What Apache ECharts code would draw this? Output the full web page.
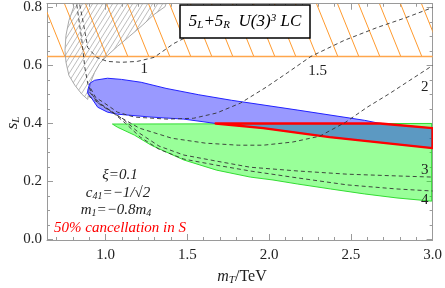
<!DOCTYPE html>
<html><head><meta charset="utf-8">
<script src="https://cdn.jsdelivr.net/npm/echarts@6/dist/echarts.min.js"></script>
<style>html,body{margin:0;padding:0;background:#fff}#c{width:445px;height:288px}</style>
</head><body><div id="c"></div>
<script>
// ---- axis ticks ----
const xMajor = [1.0, 1.5, 2.0, 2.5, 3.0];
const xMinor = [0.7, 0.8, 0.9, 1.1, 1.2, 1.3, 1.4, 1.6, 1.7, 1.8, 1.9, 2.1, 2.2, 2.3, 2.4, 2.6, 2.7, 2.8, 2.9];
const yMajor = [0.0, 0.2, 0.4, 0.6, 0.8];
const yMinor = [0.05, 0.1, 0.15, 0.25, 0.3, 0.35, 0.45, 0.5, 0.55, 0.65, 0.7, 0.75];
const xMin = 0.642, xMax = 3.0, yMin = -0.002, yMax = 0.813;

// ---- regions (mT, sL) ----
const orangeBandLow = 0.631;
const grayRegion = [[0.80,0.813],[0.806,0.803],[0.776,0.755],[0.758,0.704],[0.752,0.652],[0.758,0.611],[0.776,0.566],[0.812,0.532],[0.855,0.501],[0.891,0.483],[0.897,0.508],[0.909,0.542],[0.933,0.576],[0.964,0.607],[1.012,0.635],[1.073,0.666],[1.145,0.700],[1.224,0.738],[1.297,0.776],[1.364,0.803],[1.37,0.813]];
const blueRegion = [[0.891,0.514],[0.903,0.538],[0.933,0.549],[1.012,0.556],[1.097,0.552],[1.218,0.542],[1.370,0.521],[1.570,0.499],[1.770,0.480],[2.176,0.446],[2.582,0.411],[2.679,0.400],[3.0,0.384],
  [3.0,0.315],[2.370,0.353],[1.964,0.384],[1.673,0.400],[1.479,0.415],[1.279,0.422],[1.073,0.432],[1.012,0.439],[0.952,0.456],[0.915,0.487],[0.891,0.504]];
const greenRegion = [[1.042,0.398],[2.994,0.400],[2.994,0.132],[2.782,0.143],[2.582,0.157],[2.376,0.174],[2.176,0.191],[2.024,0.205],[1.885,0.215],[1.679,0.239],[1.479,0.274],[1.279,0.325],[1.176,0.360],[1.073,0.387]];
const redRegion = [[1.673,0.400],[2.679,0.400],[3.0,0.384],[3.0,0.315],[2.370,0.353],[1.964,0.384]];

// ---- dashed contours ----
const contour1 = [[0.842,0.81],[0.867,0.738],[0.891,0.662],[0.945,0.628],[1.012,0.614],[1.097,0.611],[1.194,0.614],[1.297,0.628],[1.418,0.676],[1.552,0.714],[1.661,0.748],[1.782,0.790],[1.82,0.81]];
const contour15 = [[0.909,0.521],[0.939,0.490],[0.994,0.470],[1.073,0.439],[1.176,0.422],[1.376,0.415],[1.539,0.418],[1.679,0.436],[1.824,0.470],[1.982,0.525],[2.115,0.576],[2.255,0.631],[2.461,0.687],[2.661,0.731],[2.842,0.766],[3.0,0.800]];
const contour2 = [[0.903,0.508],[0.933,0.487],[0.964,0.466],[1.067,0.429],[1.206,0.384],[1.406,0.349],[1.612,0.332],[1.812,0.325],[1.964,0.325],[2.145,0.336],[2.309,0.356],[2.467,0.404],[2.600,0.456],[2.739,0.504],[2.861,0.549],[3.0,0.600]];
const contour3 = [[0.897,0.494],[0.952,0.473],[1.036,0.442],[1.115,0.411],[1.206,0.367],[1.327,0.322],[1.479,0.291],[1.679,0.270],[1.885,0.249],[2.176,0.236],[2.479,0.225],[2.782,0.219],[3.0,0.215]];
const contour4 = [[0.824,0.81],[0.842,0.738],[0.855,0.687],[0.873,0.594],[0.891,0.538],[0.921,0.497],[0.964,0.470],[1.042,0.439],[1.121,0.401],[1.212,0.353],[1.327,0.311],[1.479,0.277],[1.679,0.256],[1.885,0.236],[2.176,0.212],[2.479,0.188],[2.782,0.174],[3.0,0.167]];
const contourLabels = ['1', '1.5', '2', '3', '4'];
const contourLabelAt = [[1.236,0.588],[2.297,0.580],[2.952,0.525],[2.952,0.239],[2.952,0.136]];

const SERIF = '"Liberation Serif","DejaVu Serif",serif';

function hatch(w, h, color, lw, dir) {
  const c = document.createElement('canvas');
  c.width = w; c.height = h;
  const g = c.getContext('2d');
  g.strokeStyle = color; g.lineWidth = lw; g.beginPath();
  for (let k = -1; k <= 1; k++) {
    if (dir === 'back') { g.moveTo(k * w, 0); g.lineTo(k * w + w, h); }
    else { g.moveTo(k * w, h); g.lineTo(k * w + w, 0); }
  }
  g.stroke();
  return c;
}
const orangeHatch = hatch(21, 52, '#ff9a2e', 1, 'back');
const grayHatch = hatch(5, 8, '#909090', 0.6, 'fwd');

function poly(pts, style, z) {
  return { type: 'custom', coordinateSystem: 'cartesian2d', silent: true, z: z, clip: true,
    data: [0], renderItem: (p, api) => ({ type: 'polygon', shape: { points: pts.map(q => api.coord(q)) }, style: style }) };
}
function dashed(pts) {
  return { type: 'line', data: pts, symbol: 'none', silent: true, z: 6, clip: true,
    lineStyle: { color: '#333', width: 0.9, type: [4, 3] } };
}

const series = [
  poly([[xMin, orangeBandLow],[xMax, orangeBandLow],[xMax, yMax],[xMin, yMax]], { fill: { image: orangeHatch, repeat: 'repeat' }, stroke: null }, 1),
  { type: 'line', data: [[xMin, orangeBandLow],[xMax, orangeBandLow]], symbol: 'none', silent: true, z: 1, lineStyle: { color: '#ffa64d', width: 1.3 } },
  poly(grayRegion, { fill: { image: grayHatch, repeat: 'repeat' }, stroke: '#a0a0a0', lineWidth: 0.9 }, 2),
  poly(greenRegion, { fill: 'rgba(0,255,0,0.4)', stroke: '#33dd33', lineWidth: 1 }, 3),
  poly(blueRegion, { fill: 'rgba(0,0,255,0.4)', stroke: '#2222ff', lineWidth: 1 }, 4),
  poly(redRegion, { fill: null, stroke: '#ff0000', lineWidth: 2.4, lineJoin: 'round' }, 5),
  dashed(contour1), dashed(contour15), dashed(contour2), dashed(contour3), dashed(contour4),
  { type: 'custom', coordinateSystem: 'cartesian2d', silent: true, z: 7, data: contourLabelAt.map((p, i) => [p[0], p[1], i]),
    renderItem: (p, api) => { const c = api.coord([api.value(0), api.value(1)]);
      return { type: 'text', x: c[0], y: c[1], style: { text: contourLabels[api.value(2)], textAlign: 'center', textVerticalAlign: 'middle', fontFamily: SERIF, fontSize: 15, fill: '#222' } }; } }
];

const lineC = '#9a9a9a';
function xAx(pos, ticks, len, labels, showLine) {
  return { type: 'value', min: xMin, max: xMax, position: pos,
    axisLine: { show: showLine, onZero: false, lineStyle: { color: lineC, width: 1 } },
    splitLine: { show: false },
    axisTick: { show: true, inside: true, length: len, customValues: ticks, lineStyle: { color: lineC } },
    axisLabel: labels ? { show: true, customValues: ticks, formatter: v => v.toFixed(1), fontFamily: SERIF, fontSize: 15, color: '#222', margin: 8 } : { show: false } };
}
function yAx(pos, ticks, len, labels, showLine) {
  return { type: 'value', min: yMin, max: yMax, position: pos,
    axisLine: { show: showLine, onZero: false, lineStyle: { color: lineC, width: 1 } },
    splitLine: { show: false },
    axisTick: { show: true, inside: true, length: len, customValues: ticks, lineStyle: { color: lineC } },
    axisLabel: labels ? { show: true, customValues: ticks, formatter: v => v.toFixed(1), fontFamily: SERIF, fontSize: 15, color: '#222', margin: 5 } : { show: false } };
}

const chart = echarts.init(document.getElementById('c'), null, { renderer: 'canvas' });
chart.setOption({
  animation: false,
  backgroundColor: '#fff',
  grid: { left: 47, right: 8, top: 3, bottom: 48, containLabel: false },
  xAxis: [xAx('bottom', xMajor, 6, true, true), xAx('bottom', xMinor, 3, false, false), xAx('top', xMajor, 6, false, true), xAx('top', xMinor, 3, false, false)],
  yAxis: [yAx('left', yMajor, 6, true, true), yAx('left', yMinor, 3, false, false), yAx('right', yMajor, 6, false, true), yAx('right', yMinor, 3, false, false)],
  series: series,
  graphic: [
    { type: 'rect', z: 100, shape: { x: 180, y: 5, width: 130, height: 33 }, style: { fill: '#fff', stroke: '#000', lineWidth: 1.5 } },
    { type: 'text', z: 101, x: 245, y: 22, style: { text: '{b|5}{s|L}{b|+5}{s|R}{b|  U(3)}{p|3}{b| LC}', align: 'center', verticalAlign: 'middle',
      rich: { b: { fontFamily: SERIF, fontStyle: 'italic', fontSize: 17, fill: '#000' },
              s: { fontFamily: SERIF, fontStyle: 'italic', fontSize: 11, fill: '#000', verticalAlign: 'bottom', padding: [7, 0, 0, 0] },
              p: { fontFamily: SERIF, fontStyle: 'italic', fontSize: 11, fill: '#000', verticalAlign: 'top', padding: [0, 0, 7, 0] } } } },
    { type: 'text', z: 101, x: 120, y: 175, style: { text: 'ξ=0.1', align: 'center', verticalAlign: 'middle', fontFamily: SERIF, fontStyle: 'italic', fontSize: 15, fill: '#222' } },
    { type: 'text', z: 101, x: 118, y: 193, style: { text: '{b|c}{s|41}{b|=−1/√2}', align: 'center', verticalAlign: 'middle',
      rich: { b: { fontFamily: SERIF, fontStyle: 'italic', fontSize: 15, fill: '#222' },
              s: { fontFamily: SERIF, fontStyle: 'italic', fontSize: 10, fill: '#222', verticalAlign: 'bottom', padding: [6, 0, 0, 0] } } } },
    { type: 'text', z: 101, x: 116, y: 210, style: { text: '{b|m}{s|1}{b|=−0.8m}{s|4}', align: 'center', verticalAlign: 'middle',
      rich: { b: { fontFamily: SERIF, fontStyle: 'italic', fontSize: 15, fill: '#222' },
              s: { fontFamily: SERIF, fontStyle: 'italic', fontSize: 10, fill: '#222', verticalAlign: 'bottom', padding: [6, 0, 0, 0] } } } },
    { type: 'text', z: 101, x: 120, y: 228, style: { text: '50% cancellation in S', align: 'center', verticalAlign: 'middle', fontFamily: SERIF, fontStyle: 'italic', fontSize: 15, fill: '#ff0000' } },
    { type: 'text', z: 101, x: 242, y: 277, style: { text: '{i|m}{s|T}{n|/TeV}', align: 'center', verticalAlign: 'middle',
      rich: { i: { fontFamily: SERIF, fontStyle: 'italic', fontSize: 16, fill: '#222' },
              s: { fontFamily: SERIF, fontStyle: 'italic', fontSize: 11, fill: '#222', verticalAlign: 'bottom', padding: [6, 0, 0, 0] },
              n: { fontFamily: SERIF, fontSize: 16, fill: '#222' } } } },
    { type: 'text', z: 101, x: 13, y: 123, rotation: Math.PI / 2, style: { text: '{i|s}{s|L}', align: 'center', verticalAlign: 'middle',
      rich: { i: { fontFamily: SERIF, fontStyle: 'italic', fontSize: 17, fill: '#222' },
              s: { fontFamily: SERIF, fontStyle: 'italic', fontSize: 11, fill: '#222', verticalAlign: 'bottom', padding: [6, 0, 0, 0] } } } }
  ]
});
</script></body></html>
